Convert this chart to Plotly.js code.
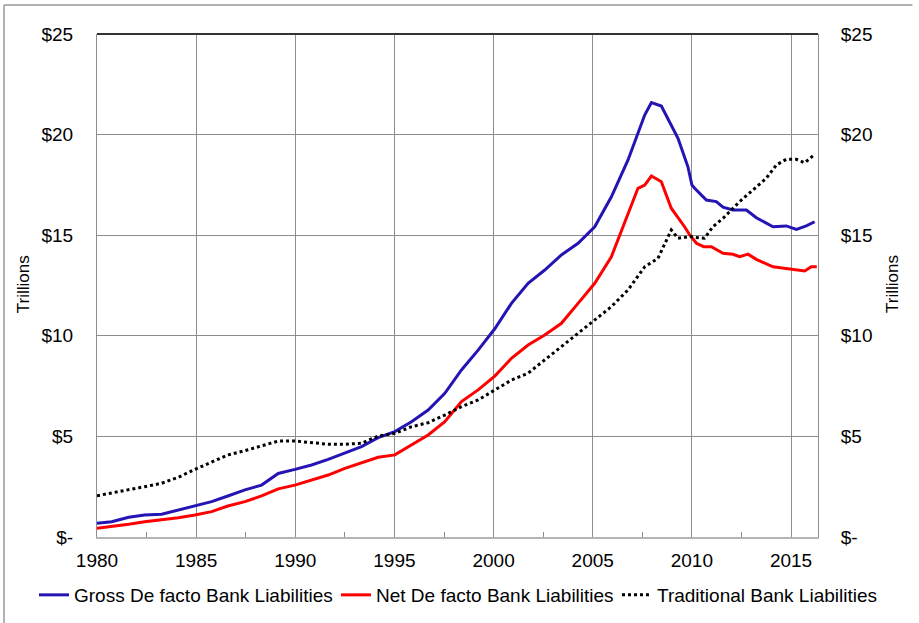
<!DOCTYPE html>
<html>
<head>
<meta charset="utf-8">
<script src="https://cdn.plot.ly/plotly-3.0.1.min.js"></script>
<style>
  html, body { margin: 0; padding: 0; background: #fff; }
  #chart { width: 919px; height: 623px; }
</style>
</head>
<body>
<div id="chart"></div>
<script>
// Gross De facto Bank Liabilities (trillions $)
const grossYears = [1980.0, 1980.74, 1981.6, 1982.4, 1983.26, 1984.1, 1984.94, 1985.78, 1986.6, 1987.46, 1988.3, 1989.14, 1989.98, 1990.82, 1991.66, 1992.5, 1993.34, 1994.18, 1995.02, 1995.86, 1996.7, 1997.54, 1998.38, 1999.22, 2000.06, 2000.9, 2001.74, 2002.58, 2003.42, 2004.26, 2005.1, 2005.94, 2006.78, 2007.62, 2007.96, 2008.46, 2009.3, 2009.8, 2010.0, 2010.14, 2010.73, 2011.23, 2011.57, 2012.07, 2012.75, 2013.25, 2014.09, 2014.76, 2015.27, 2015.77, 2016.19];
const grossValues = [0.68, 0.76, 0.98, 1.09, 1.13, 1.34, 1.54, 1.76, 2.04, 2.34, 2.58, 3.16, 3.36, 3.58, 3.86, 4.16, 4.49, 4.94, 5.24, 5.73, 6.31, 7.14, 8.30, 9.29, 10.35, 11.61, 12.61, 13.27, 14.02, 14.60, 15.42, 16.91, 18.74, 20.97, 21.59, 21.42, 19.82, 18.40, 17.50, 17.33, 16.75, 16.67, 16.39, 16.25, 16.25, 15.87, 15.42, 15.46, 15.29, 15.46, 15.67];

// Net De facto Bank Liabilities
const netYears = [1980.0, 1980.74, 1981.6, 1982.4, 1983.26, 1984.1, 1984.94, 1985.78, 1986.6, 1987.46, 1988.3, 1989.14, 1989.98, 1990.82, 1991.66, 1992.5, 1993.34, 1994.18, 1995.02, 1995.86, 1996.7, 1997.54, 1998.38, 1999.22, 2000.06, 2000.9, 2001.74, 2002.58, 2003.42, 2004.26, 2005.1, 2005.94, 2006.78, 2007.28, 2007.62, 2007.96, 2008.46, 2008.96, 2009.63, 2009.9, 2010.23, 2010.6, 2010.98, 2011.57, 2012.07, 2012.41, 2012.83, 2013.25, 2014.09, 2014.76, 2015.27, 2015.69, 2016.02, 2016.3];
const netValues = [0.43, 0.51, 0.63, 0.76, 0.85, 0.96, 1.09, 1.26, 1.54, 1.76, 2.04, 2.39, 2.58, 2.83, 3.08, 3.41, 3.69, 3.96, 4.08, 4.57, 5.07, 5.73, 6.73, 7.31, 8.00, 8.88, 9.54, 10.04, 10.62, 11.61, 12.61, 13.93, 16.09, 17.33, 17.49, 17.94, 17.66, 16.34, 15.42, 15.00, 14.60, 14.43, 14.43, 14.10, 14.05, 13.93, 14.06, 13.80, 13.43, 13.35, 13.27, 13.22, 13.43, 13.43];

// Traditional Bank Liabilities
const tradYears = [1980.0, 1980.74, 1981.6, 1982.4, 1983.26, 1984.1, 1984.94, 1985.78, 1986.6, 1987.46, 1988.3, 1989.14, 1989.98, 1990.82, 1991.66, 1992.5, 1993.34, 1994.18, 1995.02, 1995.86, 1996.7, 1997.54, 1998.38, 1999.22, 2000.06, 2000.9, 2001.74, 2002.58, 2003.42, 2004.26, 2005.1, 2005.94, 2006.78, 2007.62, 2008.29, 2008.96, 2009.3, 2009.97, 2010.14, 2010.64, 2011.06, 2011.57, 2012.41, 2013.25, 2013.75, 2014.26, 2014.76, 2015.27, 2015.69, 2016.1];
const tradValues = [2.05, 2.20, 2.34, 2.50, 2.67, 2.97, 3.36, 3.74, 4.08, 4.29, 4.54, 4.77, 4.77, 4.69, 4.61, 4.61, 4.66, 5.02, 5.15, 5.48, 5.68, 6.06, 6.48, 6.81, 7.31, 7.80, 8.14, 8.80, 9.46, 10.12, 10.79, 11.45, 12.28, 13.43, 13.85, 15.26, 14.85, 14.93, 14.89, 14.85, 15.42, 15.84, 16.67, 17.41, 17.83, 18.49, 18.77, 18.77, 18.60, 18.94];

const xTickVals = [1980, 1985, 1990, 1995, 2000, 2005, 2010, 2015];
const xTickText = ['1980', '1985', '1990', '1995', '2000', '2005', '2010', '2015'];
const yTickVals = [0, 5, 10, 15, 20, 25];
const yTickText = ['$-', '$5', '$10', '$15', '$20', '$25'];

const FONT = 'Liberation Sans, Arial, sans-serif';
const GRID = '#8c8c8c';
const FS = 19;

const traces = [
  { x: grossYears, y: grossValues, type: 'scatter', mode: 'lines', name: 'Gross De facto Bank Liabilities',
    line: { color: '#2414b4', width: 3 }, legend: 'legend' },
  { x: netYears, y: netValues, type: 'scatter', mode: 'lines', name: 'Net De facto Bank Liabilities',
    line: { color: '#ff0000', width: 3 }, legend: 'legend2' },
  { x: tradYears, y: tradValues, type: 'scatter', mode: 'lines', name: 'Traditional Bank Liabilities',
    line: { color: '#000000', width: 3, dash: '3px,3px' }, legend: 'legend3' },
  { x: [1980, 2016.36], y: [0, 0], type: 'scatter', mode: 'none', yaxis: 'y2', showlegend: false, hoverinfo: 'skip' }
];

function legendAt(px) {
  return { orientation: 'h', xref: 'container', yref: 'container', x: px / 919, xanchor: 'left',
    y: 1 - 595 / 623, yanchor: 'middle', font: { family: FONT, size: FS, color: '#000' },
    itemwidth: 30, bgcolor: 'rgba(0,0,0,0)', borderwidth: 0 };
}

const layout = {
  width: 919, height: 623,
  margin: { l: 97, r: 101, t: 34, b: 86, pad: 0, autoexpand: false },
  paper_bgcolor: '#ffffff', plot_bgcolor: '#ffffff',
  font: { family: FONT, size: FS, color: '#000' },
  showlegend: true,
  legend: legendAt(34),
  legend2: legendAt(336),
  legend3: legendAt(617),
  xaxis: {
    range: [1980, 2016.36], tickmode: 'array', tickvals: xTickVals, ticktext: xTickText,
    showgrid: true, gridcolor: GRID, gridwidth: 1, zeroline: false,
    showline: true, linecolor: '#b4b4b4', linewidth: 2,
    ticks: '', ticklabelstandoff: 5,
    minor: { tickmode: 'linear', tick0: 1982.5, dtick: 5, ticks: 'inside', ticklen: 5, tickcolor: GRID, tickwidth: 1, showgrid: false },
    tickfont: { family: FONT, size: FS, color: '#000' }
  },
  yaxis: {
    range: [0, 25], tickmode: 'array', tickvals: yTickVals, ticktext: yTickText,
    showgrid: true, gridcolor: GRID, gridwidth: 1, zeroline: false,
    showline: true, linecolor: GRID, linewidth: 1, ticks: '', ticklabelstandoff: 19,
    tickfont: { family: FONT, size: FS, color: '#000' }
  },
  yaxis2: {
    range: [0, 25], overlaying: 'y', side: 'right', tickmode: 'array', tickvals: yTickVals, ticktext: yTickText,
    showgrid: false, zeroline: false, showline: true, linecolor: GRID, linewidth: 1, ticks: '', ticklabelstandoff: 18,
    tickfont: { family: FONT, size: FS, color: '#000' }
  },
  annotations: [
    { text: 'Trillions', xref: 'paper', yref: 'paper', x: -0.101, y: 0.503, textangle: -90, showarrow: false,
      font: { family: FONT, size: 17, color: '#000' }, xanchor: 'center', yanchor: 'middle' },
    { text: 'Trillions', xref: 'paper', yref: 'paper', x: 1.104, y: 0.503, textangle: -90, showarrow: false,
      font: { family: FONT, size: 17, color: '#000' }, xanchor: 'center', yanchor: 'middle' }
  ],
  shapes: [
    { type: 'line', xref: 'paper', yref: 'paper', x0: 0, x1: 1, y0: 1, y1: 1, line: { color: '#333', width: 2 } },
    { type: 'line', xref: 'paper', yref: 'paper', x0: -0.129, x1: 1.131, y0: 1.0577, y1: 1.0577, line: { color: '#999', width: 1.5 } },
    { type: 'line', xref: 'paper', yref: 'paper', x0: -0.129, x1: -0.129, y0: 1.0577, y1: -0.2, line: { color: '#999', width: 1.5 } }
  ]
};

Plotly.newPlot('chart', traces, layout, { displayModeBar: false, staticPlot: true });
</script>
</body>
</html>
